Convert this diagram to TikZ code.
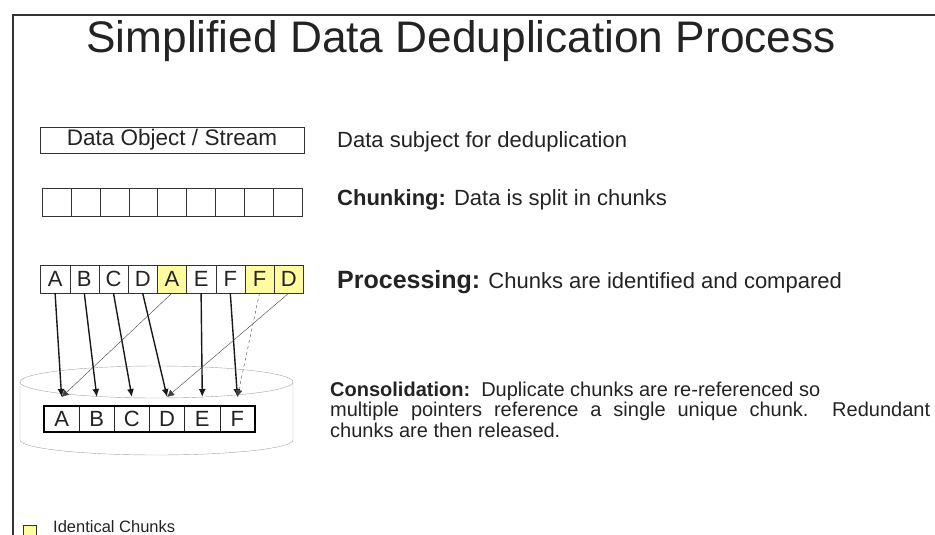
\documentclass[tikz,border=0pt]{standalone}
\usepackage{fontspec}
\setmainfont{Liberation Sans}
\usetikzlibrary{arrows.meta}
\definecolor{dupyellow}{RGB}{255,252,160}
\definecolor{cylgray}{RGB}{165,165,165}
\definecolor{inkgray}{RGB}{35,35,35}

\begin{document}
\begin{tikzpicture}[x=1pt,y=-1pt, every node/.style={text=inkgray}]
            \useasboundingbox (0,0) rectangle (935,535);

            % slide frame
            \draw[line width=1.8pt,black!80] (13,535) -- (13,15) -- (935,15);

            \node[anchor=base,font=\fontsize{44.2}{50}\selectfont] (title) at (461,53) {Simplified Data Deduplication Process};

            \node[draw=black!80, minimum width=264, minimum height=26, inner sep=0,
                  font=\fontsize{22.5}{24}\selectfont] (obj) at (172,140) {Data Object / Stream};

            % database drum
            \draw[cylgray, fill=white] (20,382) -- (20,440)
                arc[start angle=180, end angle=0, x radius=136.5, y radius=15] -- (293,382);
            \draw[cylgray] (156.5,382) ellipse [x radius=136.5, y radius=16];

            \begin{scope}[every node/.style = {draw=black!80, minimum width=28.9, minimum height=28, inner sep=0}]
                \node (c1) at (56.45,202)  {};
                \node (c2) at (85.35,202)  {};
                \node (c3) at (114.25,202) {};
                \node (c4) at (143.15,202) {};
                \node (c5) at (172.05,202) {};
                \node (c6) at (200.95,202) {};
                \node (c7) at (229.85,202) {};
                \node (c8) at (258.75,202) {};
                \node (c9) at (287.65,202) {};
            \end{scope}

            \begin{scope}[every node/.style = {draw=black!80, text=inkgray, minimum width=29.2, minimum height=28,
                            inner sep=0, font=\fontsize{22}{24}\selectfont}]
                \node (p1) at (55.1,279)  {A};
                \node (p2) at (84.3,279)  {B};
                \node (p3) at (113.5,279) {C};
                \node (p4) at (142.7,279) {D};
                \node[fill=dupyellow] (p5) at (171.9,279) {A};
                \node (p6) at (201.1,279) {E};
                \node (p7) at (230.3,279) {F};
                \node[fill=dupyellow] (p8) at (259.5,279) {F};
                \node[fill=dupyellow] (p9) at (288.7,279) {D};
            \end{scope}

            \begin{scope}[every node/.style = {draw=black!85, text=inkgray, semithick, minimum width=35.17,
                            minimum height=26, inner sep=0, font=\fontsize{22}{24}\selectfont}]
                \node (u1) at (61.6,419)  {A};
                \node (u2) at (96.8,419)  {B};
                \node (u3) at (131.9,419) {C};
                \node (u4) at (167.1,419) {D};
                \node (u5) at (202.3,419) {E};
                \node (u6) at (237.4,419) {F};
            \end{scope}
            \draw[line width=1.8pt] (u1.north west) rectangle (u6.south east);

            \coordinate (t1) at (61.6,397);
            \coordinate (t2) at (96.8,397);
            \coordinate (t3) at (131.9,397);
            \coordinate (t4) at (167.1,397);
            \coordinate (t5) at (202.3,397);
            \coordinate (t6) at (237.4,397);

            \begin{scope}[>={Latex[length=8pt,width=7pt]},
                            every edge/.style={draw=black!90,line width=1.4pt}]
                \path [->] (p1.south) edge (t1);
                \path [->] (p2.south) edge (t2);
                \path [->] (p3.south) edge (t3);
                \path [->] (p4.south) edge (t4);
                \path [->] (p6.south) edge (t5);
                \path [->] (p7.south) edge (t6);
            \end{scope}

            \begin{scope}[>={Latex[length=7pt,width=7pt]},
                            every edge/.style={draw=black!75,thin}]
                \path [->] (p5.south) edge (t1);
                \path [->] (p9.south) edge (t4);
                \path [->] (p8.south) edge[dashed] (t6);
            \end{scope}

            \begin{scope}[every node/.style={anchor=base west, inner sep=0, text=inkgray,
                            font=\fontsize{22}{24}\selectfont}]
                \node (subject) at (337,147) {Data subject for deduplication};
                \node (chunking) at (337,205) {\textbf{Chunking:} Data is split in chunks};
                \node (processing) at (337,288) {{\fontsize{25}{28}\selectfont\bfseries Processing:} Chunks are identified and compared};
            \end{scope}

            \node[anchor=north west, align=left, inner sep=0, font=\fontsize{20}{20.5}\selectfont] (consol) at (330,381.5)
                {\textbf{Consolidation:}\ \ Duplicate chunks are re-referenced so\\
                 \makebox[600pt][s]{multiple pointers reference a single unique chunk.\ \ Redundant}\\
                 chunks are then released.};

            % key
            \node[draw=black!80, fill=dupyellow, minimum size=13, inner sep=0] (key) at (30,532) {};
            \node[anchor=base west, inner sep=0, font=\fontsize{16.5}{18}\selectfont] (keytext) at (53,532) {Identical Chunks};
        \end{tikzpicture}
\end{document}
